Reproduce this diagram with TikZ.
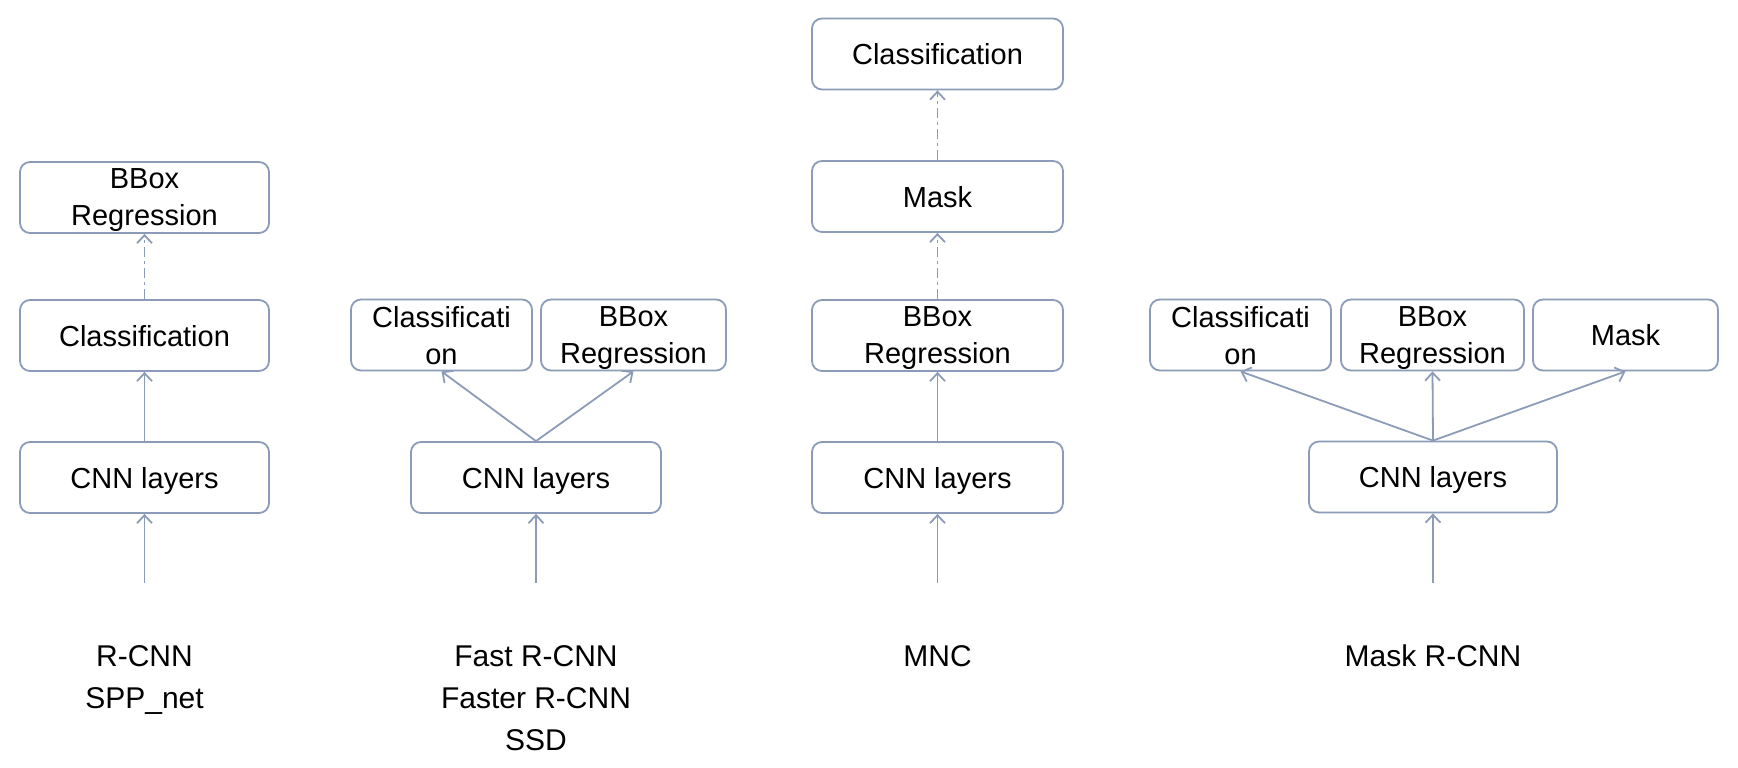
\documentclass[tikz,border=0pt]{standalone}
\usepackage{fontspec}
\setmainfont{Liberation Sans}
\usetikzlibrary{arrows.meta}
\definecolor{edgecol}{RGB}{140,156,184}
\begin{document}
\begin{tikzpicture}[x=1pt,y=-1pt,
  box/.style={draw=edgecol, line width=1.8pt, rounded corners=10pt, minimum height=71pt, inner sep=0pt, text depth=0pt, align=center, font=\fontsize{29}{37}\selectfont},
  arr/.style={draw=edgecol, line width=1.8pt, -{Straight Barb[length=8pt,width=15pt,line width=1.8pt]}},
  dasharr/.style={arr, dash pattern=on 10pt off 4pt on 3pt off 4pt},
  lbl/.style={anchor=north, align=center, inner sep=0pt, font=\fontsize{30}{42}\selectfont}]
\path[use as bounding box] (0,0) rectangle (1738,768);

% Column 1
\node[box, minimum width=249pt] (bb1) at (144.5,197.5) {BBox\\Regression};
\node[box, minimum width=249pt] (cl1) at (144.5,335.5) {Classification};
\node[box, minimum width=249pt] (cnn1) at (144.5,477.5) {CNN layers};
\coordinate (in1) at (144.5,583);
\draw[arr] (in1) -- (cnn1.south);
\draw[arr] (cnn1.north) -- (cl1.south);
\draw[dasharr] (cl1.north) -- (bb1.south);
\node[lbl] (n1) at (144.5,645) {R-CNN\\SPP\_net};

% Column 2
\node[box, minimum width=181pt] (cl2) at (441.5,335) {Classificati\\on};
\node[box, minimum width=185pt] (bb2) at (633.5,335) {BBox\\Regression};
\node[box, minimum width=250pt] (cnn2) at (536,477.5) {CNN layers};
\coordinate (in2) at (536,583);
\draw[arr] (in2) -- (cnn2.south);
\draw[arr] (cnn2.north) -- (cl2.south);
\draw[arr] (cnn2.north) -- (bb2.south);
\node[lbl] (n2) at (536,645) {Fast R-CNN\\Faster R-CNN\\SSD};

% Column 3
\node[box, minimum width=251pt] (cl3) at (937.5,54) {Classification};
\node[box, minimum width=251pt] (mk3) at (937.5,196.5) {Mask};
\node[box, minimum width=251pt] (bb3) at (937.5,335.5) {BBox\\Regression};
\node[box, minimum width=251pt] (cnn3) at (937.5,477.5) {CNN layers};
\coordinate (in3) at (937.5,583);
\draw[arr] (in3) -- (cnn3.south);
\draw[arr] (cnn3.north) -- (bb3.south);
\draw[dasharr] (bb3.north) -- (mk3.south);
\draw[dasharr] (mk3.north) -- (cl3.south);
\node[lbl] (n3) at (937.5,645) {MNC};

% Column 4
\node[box, minimum width=181pt] (cl4) at (1240.5,335) {Classificati\\on};
\node[box, minimum width=183pt] (bb4) at (1432.5,335) {BBox\\Regression};
\node[box, minimum width=185pt] (mk4) at (1625.5,335) {Mask};
\node[box, minimum width=248pt] (cnn4) at (1433,477) {CNN layers};
\coordinate (in4) at (1433,583);
\draw[arr] (in4) -- (cnn4.south);
\draw[arr] (cnn4.north) -- (cl4.south);
\draw[arr] (cnn4.north) -- (bb4.south);
\draw[arr] (cnn4.north) -- (mk4.south);
\node[lbl] (n4) at (1433,645) {Mask R-CNN};
\end{tikzpicture}
\end{document}
